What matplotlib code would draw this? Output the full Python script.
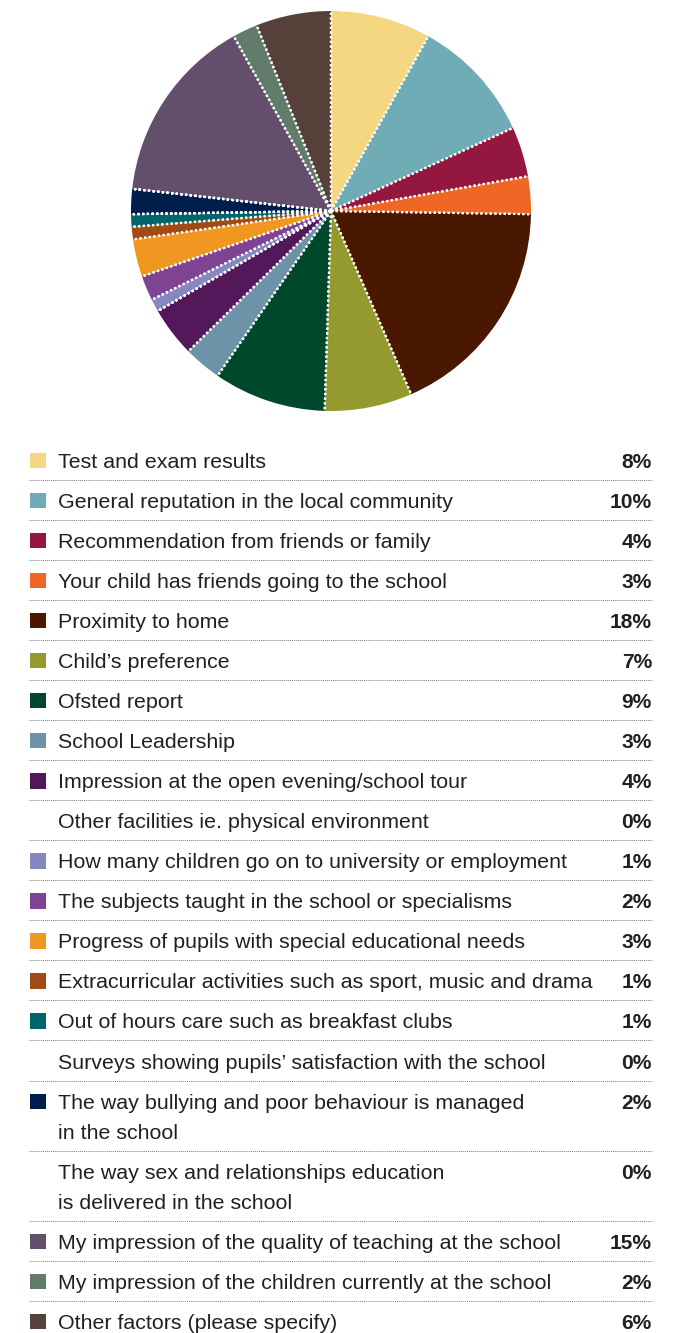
import numpy as np
import matplotlib.pyplot as plt
from matplotlib.patches import Rectangle

# Survey: factors parents considered when choosing a school
labels = [
    "Test and exam results",
    "General reputation in the local community",
    "Recommendation from friends or family",
    "Your child has friends going to the school",
    "Proximity to home",
    "Child\u2019s preference",
    "Ofsted report",
    "School Leadership",
    "Impression at the open evening/school tour",
    "Other facilities ie. physical environment",
    "How many children go on to university or employment",
    "The subjects taught in the school or specialisms",
    "Progress of pupils with special educational needs",
    "Extracurricular activities such as sport, music and drama",
    "Out of hours care such as breakfast clubs",
    "Surveys showing pupils\u2019 satisfaction with the school",
    "The way bullying and poor behaviour is managed\nin the school",
    "The way sex and relationships education\nis delivered in the school",
    "My impression of the quality of teaching at the school",
    "My impression of the children currently at the school",
    "Other factors (please specify)",
]
values = [8, 10, 4, 3, 18, 7, 9, 3, 4, 0, 1, 2, 3, 1, 1, 0, 2, 0, 15, 2, 6]
colors = [
    "#F5D782", "#70ACB5", "#93173F", "#EF6724", "#4A1700", "#949A2E",
    "#00482B", "#6D93A9", "#52185A", "#FFFFFF", "#8587BE", "#7E4392",
    "#EF9721", "#A04B14", "#00646A", "#FFFFFF", "#001E4B", "#FFFFFF",
    "#634F6C", "#627C6B", "#56413A",
]

W, H = 684, 1333
fig = plt.figure(figsize=(W / 100, H / 100), dpi=100)
PT = 0.72  # points per pixel

# pie sits at the top, centred at (331, 211) with radius 200 px
pcx, pcy, pr = 331, 211, 200
ax_pie = fig.add_axes([(pcx - pr) / W, 1 - (pcy + pr) / H, 2 * pr / W, 2 * pr / H])
wedges, _ = ax_pie.pie(values, colors=colors, startangle=90, counterclock=False,
                       radius=1, wedgeprops=dict(linewidth=0))
# white dotted spokes on every slice boundary
for w in wedges:
    for ang in (w.theta1, w.theta2):
        t = np.deg2rad(ang)
        ax_pie.plot([0, np.cos(t)], [0, np.sin(t)], color="white", lw=1.6,
                    ls=(0, (1, 1.1)), solid_capstyle="butt")
ax_pie.set_xlim(-1, 1)
ax_pie.set_ylim(-1, 1)
ax_pie.set_aspect("equal")
ax_pie.axis("off")

# legend table drawn in pixel coordinates
ax = fig.add_axes([0, 0, 1, 1], zorder=-1)
ax.set_xlim(0, W)
ax.set_ylim(H, 0)
ax.axis("off")

font = "Liberation Sans"
fs = 21.4 * PT
y = 460
for i, (lab, val, col) in enumerate(zip(labels, values, colors)):
    lines = lab.split("\n")
    if val > 0:
        ax.add_patch(Rectangle((30, y - 7.5), 15.5, 15.5, facecolor=col, edgecolor="none"))
    for k, line in enumerate(lines):
        ax.text(58, y + 30 * k + 7.5, line, fontsize=fs, family=font,
                color="#231F20", va="baseline", ha="left")
    ax.text(652, y + 7.5, f"{val}%", fontsize=21 * PT, family=font,
            fontweight="bold", color="#231F20", va="baseline", ha="right")
    bottom = y + 30 * (len(lines) - 1)
    if i < len(labels) - 1:
        ax.plot([29, 652], [bottom + 19.5, bottom + 19.5], color="#808080",
                lw=0.7, ls=(0, (1, 1)))
    y = bottom + 40.07

fig.savefig("out.png", dpi=100)
